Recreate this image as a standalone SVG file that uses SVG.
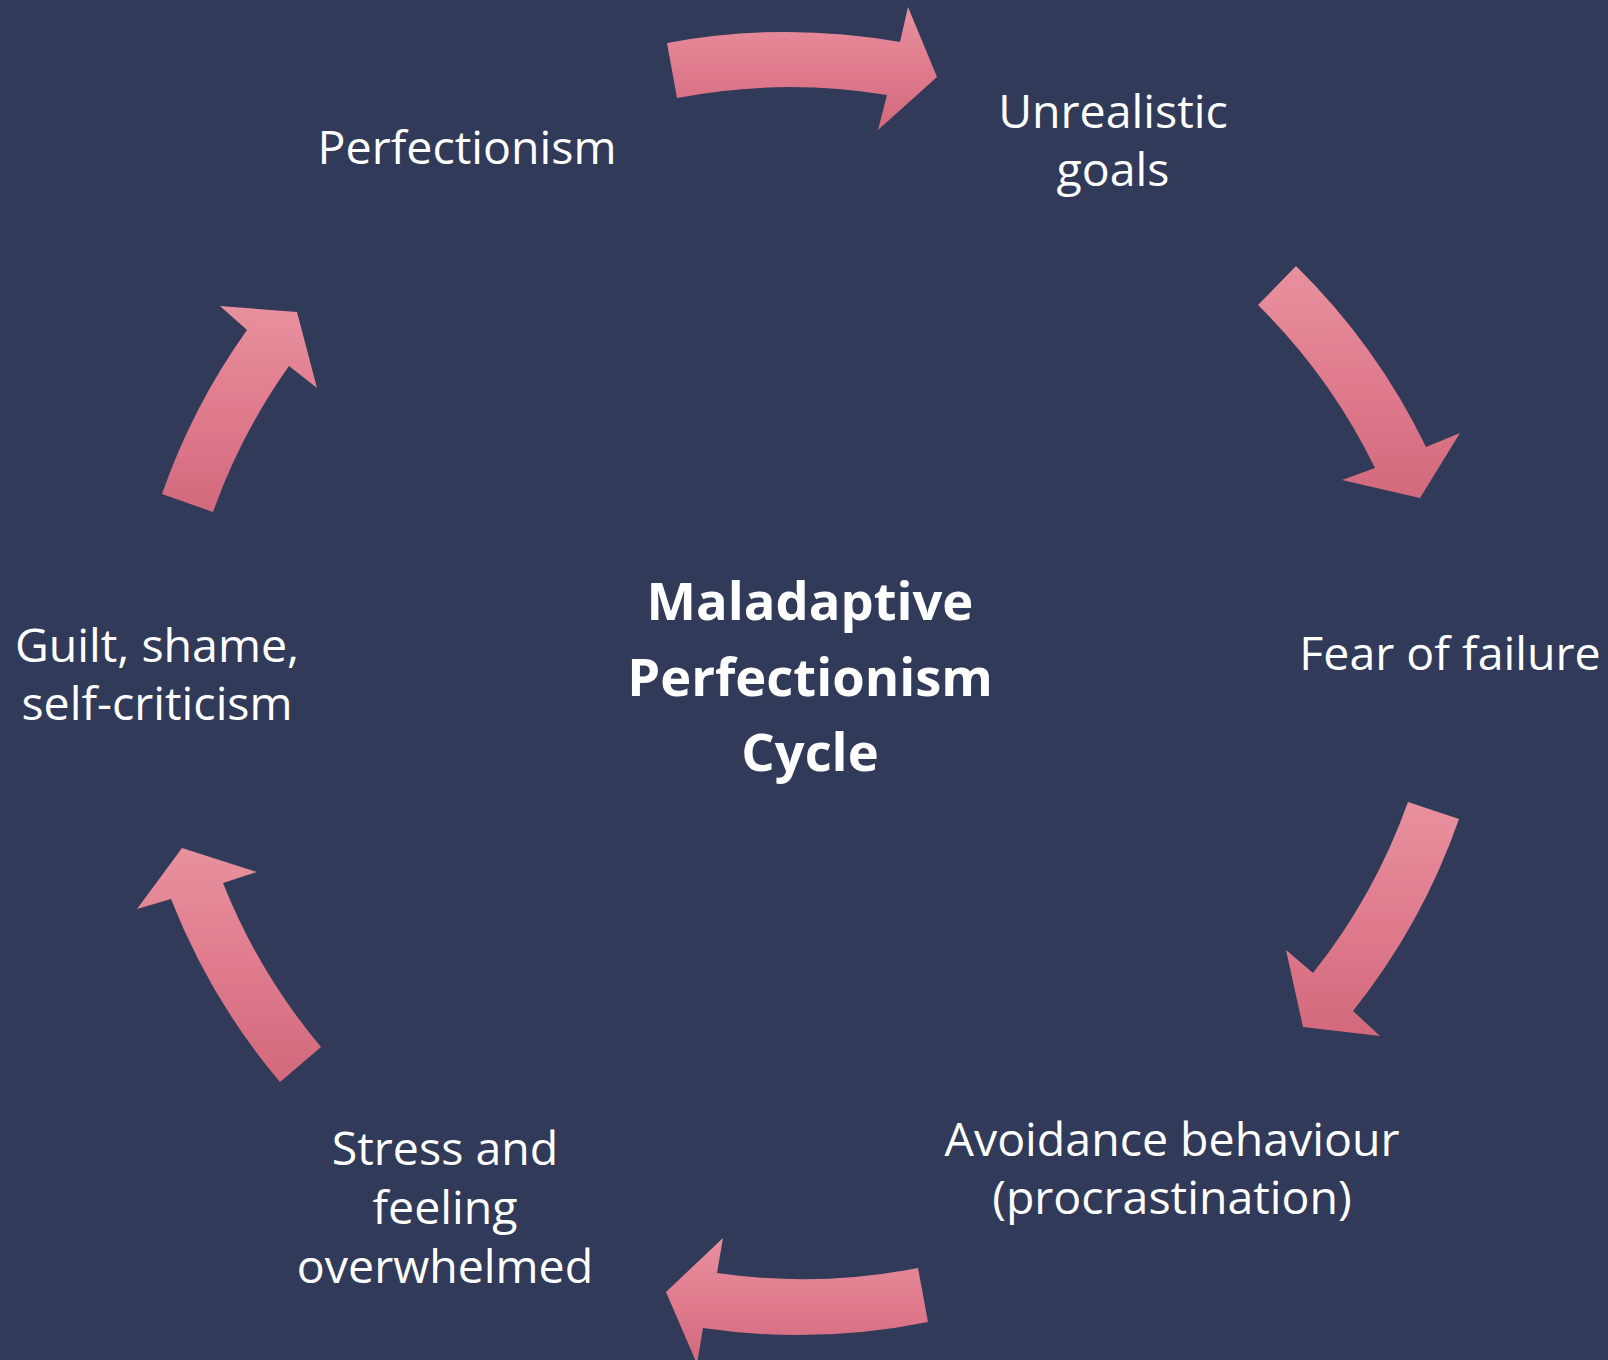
<svg xmlns="http://www.w3.org/2000/svg" width="1608" height="1360" viewBox="0 0 1608 1360">
  <defs>
    <!-- vertical pink shading used by every cycle arrow -->
    <linearGradient id="arrowFill" x1="0" y1="0" x2="0" y2="1">
      <stop offset="0" stop-color="#e8919e"/>
      <stop offset="0.5" stop-color="#e07b8e"/>
      <stop offset="1" stop-color="#d2697d"/>
    </linearGradient>
    <style>
      .bg { fill: #313a58; }
      .arrow { fill: url(#arrowFill); }
      .label { font-family: "Open Sans", "Noto Sans", "Liberation Sans", sans-serif; font-size: 46.5px; fill: #ffffff; text-anchor: middle; }
      .title { font-family: "Open Sans", "Noto Sans", "Liberation Sans", sans-serif; font-size: 52.5px; font-weight: bold; fill: #ffffff; text-anchor: middle; }
    </style>
  </defs>

  <rect class="bg" x="0" y="0" width="1608" height="1360"/>

  <!-- curved arrows running clockwise between the stages -->
  <g id="connectors">
    <path class="arrow" d="M667,43 A652,652 0 0 1 900,42 L908,7 L937,77 L878,130 L887,95 A598,598 0 0 0 677,98 Z"/>
    <path class="arrow" d="M1296,266 A652,652 0 0 1 1426,447 L1460,433 L1420,498 L1342,480 L1375,468 A598,598 0 0 0 1258,305 Z"/>
    <path class="arrow" d="M1459,819 A652,652 0 0 1 1353,1011 L1380,1036 L1303,1027 L1286,950 L1313,973 A598,598 0 0 0 1408,802 Z"/>
    <path class="arrow" d="M928,1322 A652,652 0 0 1 703,1328 L697,1364 L666,1292 L723,1238 L717,1273 A598,598 0 0 0 918,1268 Z"/>
    <path class="arrow" d="M280,1082 A652,652 0 0 1 171,899 L137,909 L182,848 L257,872 L223,883 A598,598 0 0 0 321,1047 Z"/>
    <path class="arrow" d="M162,494 A652,652 0 0 1 247,330 L220,306 L297,312 L317,388 L289,366 A598,598 0 0 0 213,512 Z"/>
  </g>

  <g id="center-title">
    <text class="title" x="810" y="620">Maladaptive</text>
    <text class="title" x="810" y="696">Perfectionism</text>
    <text class="title" x="810" y="771">Cycle</text>
  </g>

  <g id="node-perfectionism">
    <text class="label" x="467" y="164">Perfectionism</text>
  </g>

  <g id="node-unrealistic-goals">
    <text class="label" x="1113" y="128">Unrealistic</text>
    <text class="label" x="1113" y="186">goals</text>
  </g>

  <g id="node-fear-of-failure">
    <text class="label" x="1450" y="670">Fear of failure</text>
  </g>

  <g id="node-avoidance">
    <text class="label" x="1172" y="1156">Avoidance behaviour</text>
    <text class="label" x="1172" y="1214">(procrastination)</text>
  </g>

  <g id="node-stress">
    <text class="label" x="445" y="1165">Stress and</text>
    <text class="label" x="445" y="1224">feeling</text>
    <text class="label" x="445" y="1283">overwhelmed</text>
  </g>

  <g id="node-guilt">
    <text class="label" x="157" y="662">Guilt, shame,</text>
    <text class="label" x="157" y="720">self-criticism</text>
  </g>
</svg>
